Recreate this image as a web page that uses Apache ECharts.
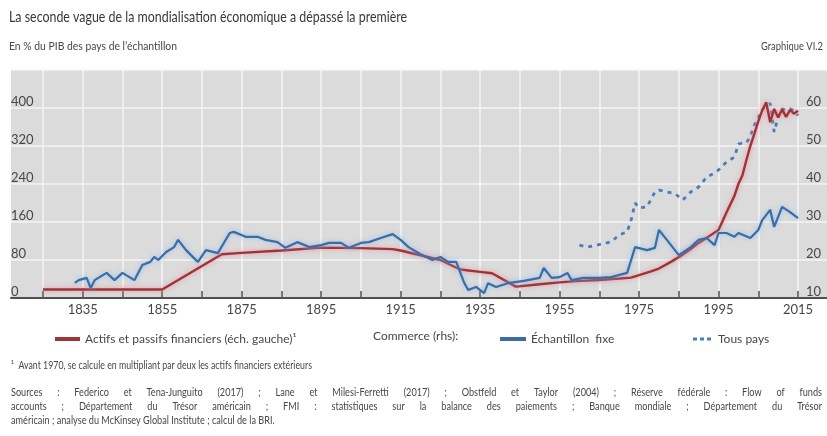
<!DOCTYPE html>
<html><head><meta charset="utf-8">
<script src="https://cdn.jsdelivr.net/npm/echarts@6/dist/echarts.min.js"></script>
<style>html,body{margin:0;padding:0;background:#fff}#c{width:827px;height:436px}</style>
</head><body><div id="c"></div><script>
// ---------- data ----------
const redYears = [1825,1855,1870,1875,1885,1895,1905,1913,1915,1920,1925,1930,1935,1938,1944,1950,1955,1960,1965,1970,1973,1975,1978,1980,1983,1985,1988,1990,1993,1995,1997,1999,2000,2001,2002,2003,2004,2005,2006,2007,2008,2009,2010,2011,2012,2013,2014,2015];
const redValues = [18,18,92,95,100,106,105,103,100,90,80,60,55,52,24,29,33,36,38,41,43,48,56,62,76,86,103,116,132,143,180,215,240,258,290,320,345,372,395,412,370,398,380,397,381,396,388,394];

const fixeYears = [1833,1834,1836,1837,1838,1841,1843,1845,1848,1850,1852,1853,1854,1856,1858,1859,1861,1863,1864,1866,1869,1872,1873,1876,1879,1881,1884,1886,1889,1892,1895,1897,1900,1902,1905,1907,1910,1913,1915,1917,1920,1923,1925,1927,1929,1931,1932,1934,1936,1937,1939,1942,1946,1950,1951,1953,1955,1957,1958,1961,1965,1968,1972,1974,1977,1979,1980,1982,1985,1988,1990,1992,1994,1995,1997,1999,2000,2003,2005,2006,2008,2009,2011,2013,2015];
const fixeValues = [14.0,14.7,15.3,12.6,14.7,16.6,14.7,16.6,14.7,18.7,19.5,20.8,20.0,22.1,23.4,25.3,22.6,20.5,19.5,22.6,21.8,27.1,27.4,26.1,26.1,25.3,24.7,23.2,24.7,23.4,23.9,24.5,24.5,23.2,24.5,24.7,25.8,26.8,25.3,23.4,21.5,20.0,20.8,19.5,19.5,14.0,12.1,12.9,11.3,13.9,12.9,13.9,14.5,15.3,17.9,15.3,15.5,16.6,14.7,15.3,15.3,15.5,16.6,23.4,22.6,23.2,27.9,25.3,21.3,23.4,25.3,25.8,23.9,27.1,27.1,26.1,27.1,25.8,27.9,30.5,33.2,28.7,34.0,32.6,31.0];

const tousYears = [1960,1962,1964,1966,1968,1970,1972,1973,1974,1975,1977,1979,1980,1982,1984,1986,1988,1990,1992,1994,1995,1997,1999,2000,2001,2002,2003,2004,2005,2006,2007,2008,2009,2010,2011,2012,2013,2014,2015];
const tousValues = [23.9,23.4,23.8,24.3,24.8,26.6,27.4,30.5,35,33.7,34,37.9,38.4,37.9,37.5,35.8,37.9,39.2,41.8,42.9,43.7,45.8,47.1,50.5,50.8,50.8,52.5,55.5,57.5,59.5,60.8,61.2,53.7,57.6,59.8,59.5,59.8,59.3,58.0];

const xTickLabels = [1835,1855,1875,1895,1915,1935,1955,1975,1995,2015];
const leftTickLabels = [0,80,160,240,320,400];
const rightTickLabels = [10,20,30,40,50,60];

const seriesNames = ['Actifs et passifs financiers (éch. gauche)\u00B9', 'Échantillon  fixe', 'Tous pays'];

const titleText = 'La seconde vague de la mondialisation économique a dépassé la première';
const subtitleText = 'En % du PIB des pays de l\u2019échantillon';
const chartNumber = 'Graphique VI.2';
const commerceText = 'Commerce (rhs):';
const footnoteText = '\u00B9  Avant 1970, se calcule en multipliant par deux les actifs financiers extérieurs';
const sourceLines = [
  'Sources : Federico et Tena-Junguito (2017) ; Lane et Milesi-Ferretti (2017) ; Obstfeld et Taylor (2004) ; Réserve fédérale : Flow of funds',
  'accounts ; Département du Trésor américain ;  FMI : statistiques sur la balance des paiements ; Banque mondiale ; Département du Trésor',
  'américain ; analyse du McKinsey Global Institute ; calcul de la BRI.'
];

// ---------- helpers ----------
const BASE = 'Lato';
const mctx = document.createElement('canvas').getContext('2d');
function tw(str, size){ mctx.font = size + 'px ' + BASE; return mctx.measureText(str).width; }
function fitText(str, x, y, size, target, color, align){
  const s = target / tw(str, size);
  return {type:'text', x:x, y:y, scaleX:s, silent:true,
    style:{text:str, fontSize:size, fontFamily:BASE, fill:color, align:align||'left', verticalAlign:'middle'}};
}
function justified(str, x, y, size, scale, width, color){
  const words = str.split(/\s+/);
  const ws = words.map(w => tw(w, size)*scale);
  const total = ws.reduce((a,b)=>a+b,0);
  const gap = (width - total)/(words.length-1);
  const out = []; let cx = x;
  words.forEach((w,i)=>{ out.push({type:'text', x:cx, y:y, scaleX:scale, silent:true,
      style:{text:w, fontSize:size, fontFamily:BASE, fill:color, align:'left', verticalAlign:'middle'}});
    cx += ws[i] + gap; });
  return out;
}
function plain(str, x, y, size, scale, color){
  return {type:'text', x:x, y:y, scaleX:scale, silent:true,
    style:{text:str, fontSize:size, fontFamily:BASE, fill:color, align:'left', verticalAlign:'middle'}};
}

const noteSize = 11;
const noteScale = 301 / tw(footnoteText, noteSize);
const srcScale = noteScale * 1.04;
const noteColor = '#474747';
const graphics = [
  fitText(titleText, 9, 17, 16, 398, '#383838'),
  fitText(subtitleText, 9, 46, 12, 168, '#474747'),
  fitText(chartNumber, 823, 46, 12, 62, '#474747', 'right'),
  {type:'text', x:373, y:336, silent:true, style:{text:commerceText, fontSize:12, fontFamily:BASE, fill:'#474747', verticalAlign:'middle'}},
  plain(footnoteText, 11, 365, noteSize, noteScale, noteColor),
  ...justified(sourceLines[0], 11, 392, noteSize, srcScale, 811, noteColor),
  ...justified(sourceLines[1], 11, 406, noteSize, srcScale, 811, noteColor),
  plain(sourceLines[2], 11, 420, noteSize, srcScale, noteColor)
];

const pairs = (xs, ys) => xs.map((x,i)=>[x, ys[i]]);
const gridWhite = {color:'#f5f5f5', width:1.5};
const labelColor = '#474747';
const RED = '#9e3439';
const BLUE = '#3b6ca5';
const DOT = '#4a7dbb';

const option = {
  animation:false,
  backgroundColor:'#ffffff',
  grid:[
    {left:11, right:0, top:70, height:228, show:true, backgroundColor:'#dbdbdb', borderWidth:0},
    {left:43, right:29, top:70, height:228}
  ],
  xAxis:[
    {gridIndex:0, type:'value', min:0, max:1, position:'top',
      axisLine:{show:true, lineStyle:{color:'#505050', width:2}}, axisTick:{show:false}, axisLabel:{show:false}, splitLine:{show:false}},
    {gridIndex:1, type:'value', min:1825, max:2015, interval:10,
      axisLine:{show:false},
      axisTick:{show:true, inside:true, length:7, lineStyle:{color:'#505050', width:1.5}},
      axisLabel:{color:labelColor, fontFamily:BASE, fontSize:13, margin:5,
        formatter: v => xTickLabels.indexOf(v) >= 0 ? String(v) : ''},
      splitLine:{show:true, lineStyle:gridWhite}}
  ],
  yAxis:[
    {gridIndex:0, type:'value', min:0, max:480, interval:80,
      axisLine:{show:false}, axisTick:{show:false}, axisLabel:{show:false}, splitLine:{show:true, lineStyle:gridWhite}},
    {gridIndex:1, type:'value', min:0, max:480, interval:80, position:'left',
      axisLine:{show:false}, axisTick:{show:false}, splitLine:{show:false},
      axisLabel:{color:labelColor, fontFamily:BASE, fontSize:13, align:'left', margin:32, verticalAlign:'bottom',
        formatter: v => leftTickLabels.indexOf(v) >= 0 ? String(v) : ''}},
    {gridIndex:1, type:'value', min:10, max:70, interval:10, position:'right',
      axisLine:{show:false}, axisTick:{show:false}, splitLine:{show:false},
      axisLabel:{color:labelColor, fontFamily:BASE, fontSize:13, align:'left', margin:8, verticalAlign:'bottom',
        formatter: v => rightTickLabels.indexOf(v) >= 0 ? String(v) : ''}}
  ],
  legend:[
    {left:50, top:328, itemWidth:25, itemHeight:4, data:[{name:seriesNames[0], icon:'rect'}],
      textStyle:{color:labelColor, fontFamily:BASE, fontSize:12}, selectedMode:false},
    {left:495, top:328, itemWidth:26, itemHeight:4, data:[{name:seriesNames[1], icon:'rect'}],
      textStyle:{color:labelColor, fontFamily:BASE, fontSize:12}, selectedMode:false},
    {left:688, top:328, itemWidth:22, itemHeight:3,
      data:[{name:seriesNames[2], icon:'path://M0,0h4v3h-4z M7,0h4v3h-4z M14,0h4v3h-4z'}],
      textStyle:{color:labelColor, fontFamily:BASE, fontSize:12}, selectedMode:false}
  ],
  graphic: graphics,
  series:[
    {name:seriesNames[2], type:'line', xAxisIndex:1, yAxisIndex:2, data:pairs(tousYears, tousValues),
      showSymbol:false, symbol:'none', color:DOT,
      lineStyle:{width:2.8, type:[4,5], color:DOT, cap:'butt'}, z:3},
    {name:seriesNames[0], type:'line', xAxisIndex:1, yAxisIndex:1, data:pairs(redYears, redValues),
      showSymbol:false, symbol:'none', color:RED,
      lineStyle:{width:2.4, color:RED, shadowColor:'rgba(235,140,150,0.9)', shadowBlur:5}, z:4},
    {name:seriesNames[1], type:'line', xAxisIndex:1, yAxisIndex:2, data:pairs(fixeYears, fixeValues),
      showSymbol:false, symbol:'none', color:BLUE,
      lineStyle:{width:2.2, color:BLUE, shadowColor:'rgba(140,190,240,0.9)', shadowBlur:5}, z:5}
  ]
};
const chart = echarts.init(document.getElementById('c'), null, {renderer:'canvas'});
chart.setOption(option);
</script></body></html>
